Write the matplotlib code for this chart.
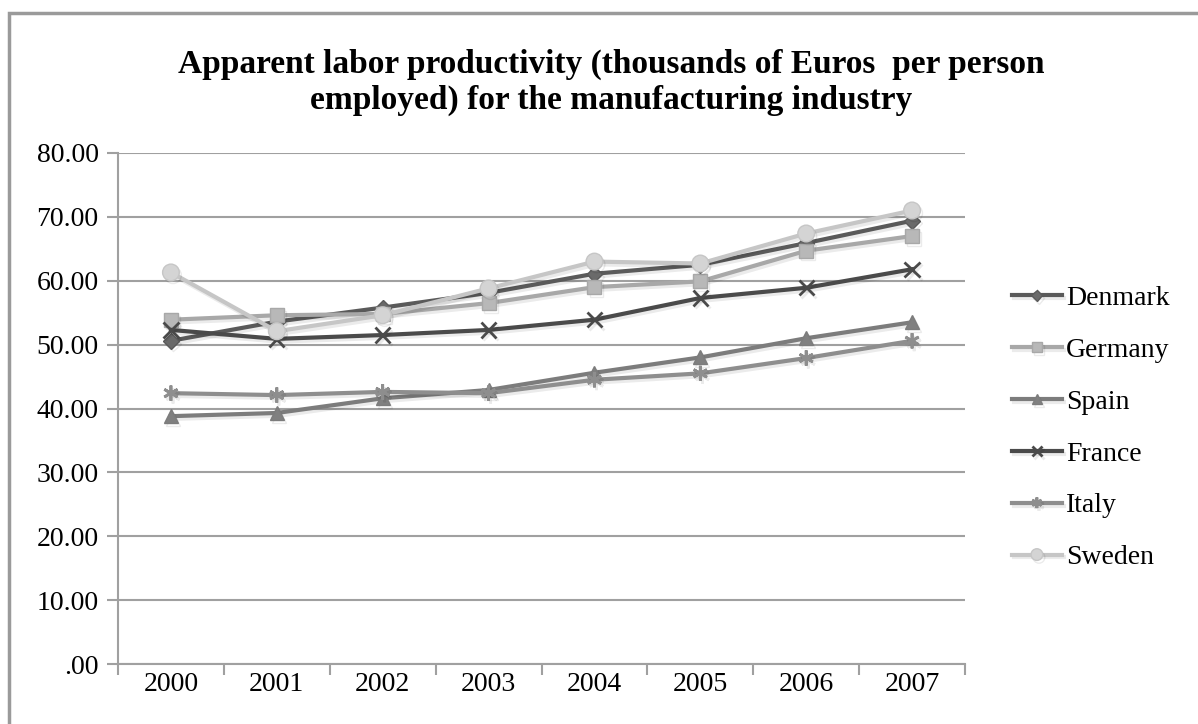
import matplotlib
matplotlib.use('Agg')
import matplotlib.pyplot as plt
import matplotlib.patheffects as pe
from matplotlib.patches import Rectangle

# Apparent labor productivity, thousands of Euros per person employed
years = ["2000", "2001", "2002", "2003", "2004", "2005", "2006", "2007"]
denmark = [50.6, 53.6, 55.8, 58.1, 61.1, 62.5, 65.9, 69.4]
germany = [53.9, 54.6, 54.8, 56.5, 59.0, 59.9, 64.7, 67.0]
spain = [38.8, 39.3, 41.6, 42.9, 45.6, 48.0, 51.0, 53.5]
france = [52.3, 50.9, 51.5, 52.3, 53.9, 57.3, 58.9, 61.8]
italy = [42.4, 42.1, 42.6, 42.4, 44.5, 45.5, 47.9, 50.6]
sweden = [61.3, 52.1, 54.6, 58.8, 63.0, 62.7, 67.4, 71.0]

series = [
    ("Denmark", denmark, "#5a5a5a", "D", 8, "#6a6a6a"),
    ("Germany", germany, "#a8a8a8", "s", 10, "#b8b8b8"),
    ("Spain", spain, "#7c7c7c", "^", 10, "#808080"),
    ("France", france, "#4a4a4a", "x", 11, "#4a4a4a"),
    ("Italy", italy, "#8e8e8e", (6, 2, 0), 11, "#8e8e8e"),
    ("Sweden", sweden, "#c6c6c6", "o", 12, "#d4d4d4"),
]

plt.rcParams['font.family'] = ['Liberation Serif', 'DejaVu Serif']

fig = plt.figure(figsize=(11.98, 7.24), dpi=100)
# outer chart border
fig.patches.append(Rectangle((9 / 1198, -0.05), 1.2, 1 - 13 / 724 + 0.05,
                             transform=fig.transFigure, fill=False,
                             edgecolor="#9a9a9a", linewidth=2.5))

ax = fig.add_axes([118 / 1198, 1 - 664 / 724, (965 - 118) / 1198, (664 - 153) / 724])

x = list(range(len(years)))
shadow = [pe.SimpleLineShadow(offset=(1.5, -2), shadow_color="black", alpha=0.08),
          pe.Normal()]
for name, vals, col, mk, ms, face in series:
    ax.plot(x, vals, color=col, linewidth=3, marker=mk, markersize=ms,
            markerfacecolor=face, markeredgecolor=col,
            markeredgewidth=2 if mk in ("x", (6, 2, 0)) else 1,
            label=name, path_effects=shadow)

ax.set_xlim(-0.5, 7.5)
ax.set_ylim(0, 80)
ax.set_yticks(range(0, 81, 10))
ax.set_yticklabels([".00"] + [f"{v}.00" for v in range(10, 81, 10)])
ax.yaxis.grid(True, color="#a0a0a0", linewidth=1.5)
ax.set_axisbelow(True)

ax.set_xticks([i - 0.5 for i in range(9)])
ax.set_xticklabels([])
ax.set_xticks(x, minor=True)
ax.set_xticklabels(years, minor=True)
ax.tick_params(axis="x", which="major", length=8, color="#a0a0a0", width=1.5)
ax.tick_params(axis="x", which="minor", length=0, pad=6, labelsize=20)
ax.tick_params(axis="y", length=8, color="#a0a0a0", width=1.5, labelsize=20, pad=6)

for s in ("top", "right"):
    ax.spines[s].set_visible(False)
for s in ("left", "bottom"):
    ax.spines[s].set_color("#a0a0a0")
    ax.spines[s].set_linewidth(1.5)

fig.text(0.51, 0.886, "Apparent labor productivity (thousands of Euros  per person\nemployed) for the manufacturing industry",
         ha="center", va="center", fontsize=24, fontweight="bold", linespacing=1.2)

handles, labels = ax.get_legend_handles_labels()
fig.legend(handles, labels, loc="center left", bbox_to_anchor=(998 / 1198, 1 - 428 / 724),
           frameon=False, borderpad=0, fontsize=20, handlelength=1.8,
           handletextpad=0.15, labelspacing=0.95, markerscale=0.7)

plt.savefig("out.png", dpi=100)
